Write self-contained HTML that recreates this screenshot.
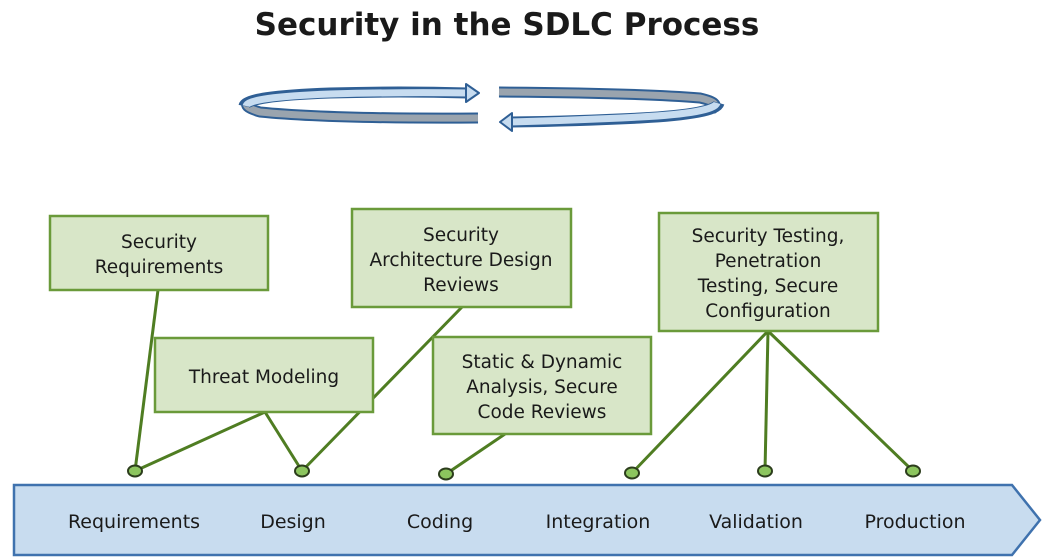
<!DOCTYPE html>
<html><head><meta charset="utf-8"><style>
html,body{margin:0;padding:0;background:#fff;width:1042px;height:559px;overflow:hidden}
svg{display:block}
text{font-family:"DejaVu Sans","Liberation Sans",sans-serif;fill:#1a1a1a}
</style></head><body>
<svg width="1042" height="559" viewBox="0 0 1042 559">
<text x="507" y="35" text-anchor="middle" font-size="31" font-weight="bold">Security in the SDLC Process</text>
<!-- cycle ribbons -->
<g fill="none" stroke-linecap="butt">
<path d="M478,118 Q330,119 260,112 Q240,106 250,102" stroke="#2f5f95" stroke-width="11"/>
<path d="M478,118 Q330,119 260,112 Q240,106 250,102" stroke="#9aa4ae" stroke-width="7"/>
<path d="M244,106 Q246,96 330,93 Q400,91 468,93" stroke="#2f5f95" stroke-width="11"/>
<path d="M246,106 Q248,97 330,94 Q400,92 469,93" stroke="#c7dcf0" stroke-width="7"/>
<path d="M499,92 Q640,93 700,98 Q722,103 712,109" stroke="#2f5f95" stroke-width="11"/>
<path d="M499,92 Q640,93 700,98 Q722,103 712,109" stroke="#9aa4ae" stroke-width="7"/>
<path d="M719,103 Q716,114 640,118 Q580,121 511,122" stroke="#2f5f95" stroke-width="11"/>
<path d="M717,103 Q714,113 640,117 Q580,120 510,122" stroke="#c7dcf0" stroke-width="7"/>
</g>
<path d="M466,84 L479,93 L466,102 Z" fill="#c7dcf0" stroke="#2f5f95" stroke-width="2" stroke-linejoin="round"/>
<path d="M512,113 L500,122 L512,131 Z" fill="#c7dcf0" stroke="#2f5f95" stroke-width="2" stroke-linejoin="round"/>
<!-- band -->
<path d="M14,485 L1012,485 L1040,520 L1012,555 L14,555 Z" fill="#c8dcef" stroke="#3f72ae" stroke-width="2.5"/>
<g font-size="19" text-anchor="middle">
<text x="134" y="528">Requirements</text>
<text x="293" y="528">Design</text>
<text x="440" y="528">Coding</text>
<text x="598" y="528">Integration</text>
<text x="756" y="528">Validation</text>
<text x="915" y="528">Production</text>
</g>
<g stroke="#4f7d22" stroke-width="3">
<line x1="158" y1="290" x2="135" y2="471"/>
<line x1="265" y1="412" x2="135" y2="471"/>
<line x1="265" y1="412" x2="302" y2="471"/>
<line x1="462" y1="307" x2="302" y2="471"/>
<line x1="505" y1="434" x2="446" y2="474"/>
<line x1="768" y1="331" x2="632" y2="473"/>
<line x1="768" y1="331" x2="765" y2="471"/>
<line x1="768" y1="331" x2="913" y2="471"/>
</g>
<g fill="#8cc55e" stroke="#2c3d1c" stroke-width="2">
<ellipse cx="135" cy="471" rx="7" ry="5.5"/>
<ellipse cx="302" cy="471" rx="7" ry="5.5"/>
<ellipse cx="446" cy="474" rx="7" ry="5.5"/>
<ellipse cx="632" cy="473" rx="7" ry="5.5"/>
<ellipse cx="765" cy="471" rx="7" ry="5.5"/>
<ellipse cx="913" cy="471" rx="7" ry="5.5"/>
</g>
<g fill="#d8e6c8" stroke="#6a9a3a" stroke-width="2.5">
<rect x="50" y="216" width="218" height="74"/>
<rect x="155" y="338" width="218" height="74"/>
<rect x="352" y="209" width="219" height="98"/>
<rect x="433" y="337" width="218" height="97"/>
<rect x="659" y="213" width="219" height="118"/>
</g>
<g font-size="18.5" text-anchor="middle">
<text x="159" y="248">Security</text>
<text x="159" y="273">Requirements</text>
<text x="264" y="383">Threat Modeling</text>
<text x="461" y="241">Security</text>
<text x="461" y="266">Architecture Design</text>
<text x="461" y="291">Reviews</text>
<text x="542" y="368">Static &amp; Dynamic</text>
<text x="542" y="393">Analysis, Secure</text>
<text x="542" y="418">Code Reviews</text>
<text x="768" y="242">Security Testing,</text>
<text x="768" y="267">Penetration</text>
<text x="768" y="292">Testing, Secure</text>
<text x="768" y="317">Configuration</text>
</g>
</svg>
</body></html>
